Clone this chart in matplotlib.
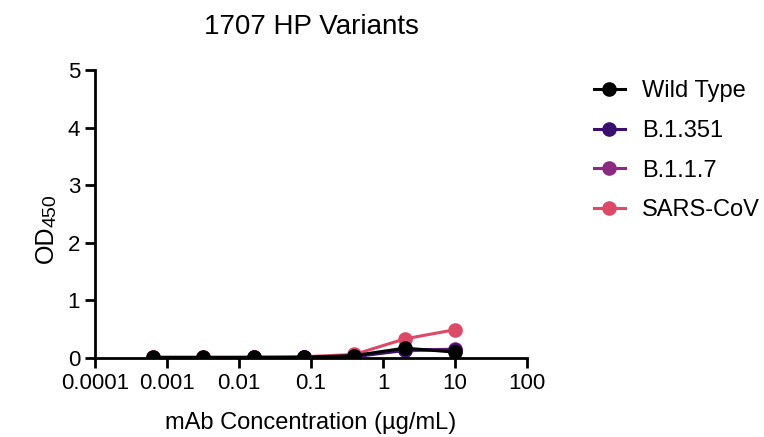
import numpy as np
import matplotlib.pyplot as plt

plt.rcParams['font.family'] = ['Liberation Sans', 'DejaVu Sans']

# mAb concentrations (ug/mL), 5-fold dilutions
conc = [10, 2, 0.4, 0.08, 0.016, 0.0032, 0.00064]

wild_type = [0.10, 0.17, 0.04, 0.01, 0.01, 0.01, 0.01]
b1351 = [0.14, 0.13, 0.02, 0.01, 0.00, 0.00, 0.00]
b117 = [0.15, 0.14, 0.03, 0.01, 0.01, 0.00, 0.00]
sars_cov = [0.49, 0.33, 0.06, 0.02, 0.01, 0.01, 0.01]

series = [
    ("Wild Type", wild_type, "#000000"),
    ("B.1.351", b1351, "#3b0f70"),
    ("B.1.1.7", b117, "#8c2981"),
    ("SARS-CoV", sars_cov, "#de4968"),
]

fig = plt.figure(figsize=(7.64, 4.37), dpi=100)
ax = fig.add_axes([0.124, 0.181, 0.566, 0.659])

# draw back to front so wild type is on top
for name, vals, col in reversed(series):
    ax.plot(conc, vals, color=col, linewidth=2.2, marker='o', markersize=9.5, label=name)

ax.set_xscale('log')
ax.set_xlim(0.0001, 100)
ax.set_ylim(0, 5)
ax.set_xticks([0.0001, 0.001, 0.01, 0.1, 1, 10, 100])
ax.set_xticklabels(["0.0001", "0.001", "0.01", "0.1", "1", "10", "100"])
ax.xaxis.set_minor_locator(plt.NullLocator())
ax.set_yticks([0, 1, 2, 3, 4, 5])

for s in ['top', 'right']:
    ax.spines[s].set_visible(False)
for s in ['left', 'bottom']:
    ax.spines[s].set_linewidth(2)
ax.tick_params(width=2, length=7, labelsize=16, direction='out')
ax.tick_params(axis='x', pad=4)

ax.set_xlabel("mAb Concentration (µg/mL)", fontsize=17, labelpad=13)
ax.set_title("1707 HP Variants", fontsize=20, pad=26)

# y label: OD with a large subscript, built from two rotated texts
fig.text(53 / 764, 1 - 263 / 437, "OD", fontsize=18, rotation=90,
         rotation_mode='anchor', ha='left', va='baseline')
fig.text(56 / 764, 1 - 227 / 437, "450", fontsize=14, rotation=90,
         rotation_mode='anchor', ha='left', va='baseline')

handles, labels = ax.get_legend_handles_labels()
ax.legend(handles[::-1], labels[::-1], loc='upper left', bbox_to_anchor=(1.105, 1.038),
          frameon=False, fontsize=17, handlelength=1.3, labelspacing=0.75, handletextpad=0.75)

fig.savefig("out.png", dpi=100)
